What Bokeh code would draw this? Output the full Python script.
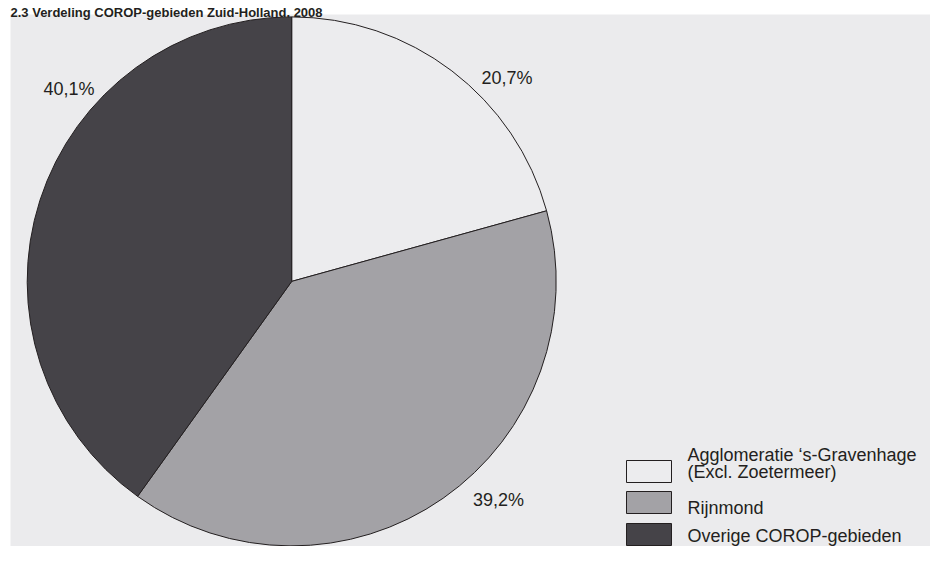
import math
from bokeh.plotting import figure
from bokeh.models import Range1d, ColumnDataSource
from bokeh.core.properties import value
from bokeh.embed import file_html
from bokeh.resources import INLINE

# ---- data ----
title_text = "2.3  Verdeling COROP-gebieden Zuid-Holland, 2008"
categories = ["Agglomeratie \u2018s-Gravenhage\n(Excl. Zoetermeer)", "Rijnmond", "Overige COROP-gebieden"]
shares = [20.7, 39.2, 40.1]
share_labels = ["20,7%", "39,2%", "40,1%"]
colors = ["#ececee", "#a3a2a6", "#454348"]

W, H = 930, 546
FONT = "Liberation Sans"
TXT = "#231f20"


def Y(py):
    # picture row -> data y (1 data unit = 1 px)
    return H - py


p = figure(width=W, height=H, output_backend="svg", toolbar_location=None,
           x_range=Range1d(0, W), y_range=Range1d(0, H), min_border=0)
p.axis.visible = False
p.grid.visible = False
p.outline_line_color = None
p.background_fill_color = "white"
p.border_fill_color = "white"

# panel background
p.quad(left=[10], right=[W + 5], bottom=[-10], top=[Y(14)], fill_color="#ebebed", line_color=None)

# title
p.text(x=[10], y=[Y(12)], text=[title_text], text_font=value(FONT), text_font_size="13px",
       text_font_style="bold", text_color=TXT, text_baseline="alphabetic", text_align="left")

# pie
cx, cy, r = 291.2, Y(280.9), 264.5
total = sum(shares)
cum = 0.0
starts, ends = [], []
for s in shares:
    a0 = math.pi / 2 - 2 * math.pi * cum / total
    cum += s
    a1 = math.pi / 2 - 2 * math.pi * cum / total
    starts.append(a1)
    ends.append(a0)
src = ColumnDataSource(dict(start=starts, end=ends, color=colors))
p.wedge(x=cx, y=cy, radius=r, start_angle="start", end_angle="end", direction="anticlock",
        fill_color="color", line_color="#231f20", line_width=1, source=src)

# share labels (offsets from pie centre)
label_offsets = [(215.3, 203.4), (206.8, -218.6), (-222.7, 192.9)]
p.text(x=[cx + dx for dx, dy in label_offsets], y=[cy + dy for dx, dy in label_offsets],
       text=share_labels, text_font=value(FONT), text_font_size="18px", text_color=TXT,
       text_align="center", text_baseline="middle")

# legend
box_left, box_right = 626, 671
box_tops = [460, 491, 523]
box_h = 22
p.quad(left=[box_left] * 3, right=[box_right] * 3, top=[Y(t) for t in box_tops],
       bottom=[Y(t + box_h) for t in box_tops], fill_color=colors, line_color="#231f20", line_width=1)
line_ys = [[454.5, 471], [507], [535]]
lx, ly, lt = [], [], []
for cat, ys in zip(categories, line_ys):
    for line, yy in zip(cat.split("\n"), ys):
        lx.append(687)
        ly.append(Y(yy))
        lt.append(line)
p.text(x=lx, y=ly, text=lt, text_font=value(FONT), text_font_size="18px", text_color=TXT,
       text_align="left", text_baseline="middle")

open("out.html", "w").write(file_html(p, INLINE))
